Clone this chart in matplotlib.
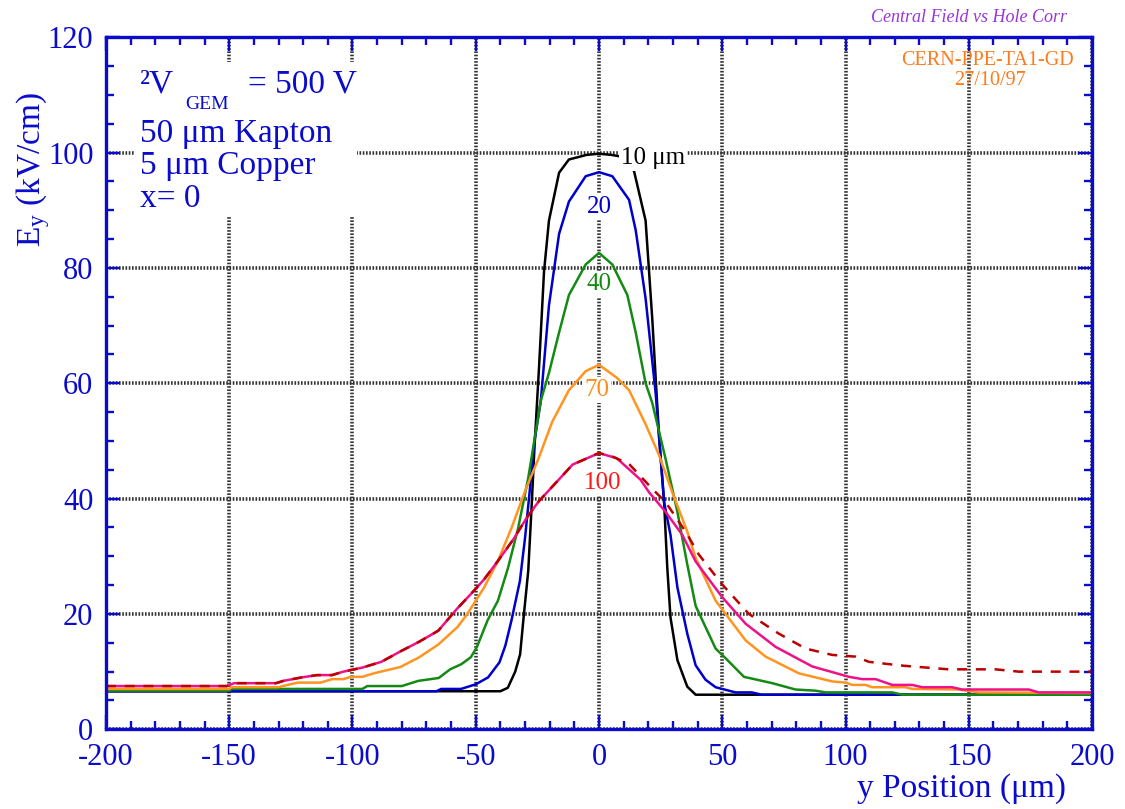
import matplotlib
matplotlib.use("Agg")
import matplotlib.pyplot as plt
from matplotlib.ticker import MultipleLocator

# ---- data (y position in um, Ey in kV/cm) ----
x_10 = [-200, -40, -37, -34, -32, -30.7, -28.7, -27.3, -26.2, -24.3, -22.3, -20.3,
        -16.2, -12.2, -5, 0, 5, 9, 14.2, 18.9, 21.6, 24.3, 26.4, 27.7, 29, 31.8,
        35.8, 39.2, 200]
y_10 = [6.6, 6.6, 7.2, 10, 13, 18.9, 27.5, 39, 48.7, 63, 79.4, 88.2,
        96.5, 98.8, 99.6, 99.8, 99.6, 99.3, 96.8, 88.2, 71.2, 51.2, 39.4, 28, 19.4, 12,
        7.4, 6.0, 6.0]

x_20 = [-200, -66, -64, -56, -50, -45, -40.4, -38, -35.5, -32.1, -30, -28, -26.2,
        -23.6, -20.3, -16.2, -12.2, -5.4, 0, 5.4, 12.2, 14.9, 18.9, 23, 26.4, 29,
        31.8, 35.8, 39.2, 43.2, 47.3, 55.4, 62, 66, 200]
y_20 = [6.6, 6.6, 7.0, 7.0, 7.8, 9, 11.6, 14.5, 18.9, 25.7, 33.2, 41.8, 49.9,
        57, 73.5, 85.9, 91.5, 95.9, 96.6, 95.9, 91.8, 86.5, 74.7, 58.2, 39.4, 33.7,
        24.6, 16.6, 11.1, 8.6, 7.3, 6.4, 6.4, 6.0, 6.0]

x_40 = [-200, -150, -149, -96, -94, -80, -73.3, -65, -60.4, -55.8, -52, -49.6,
        -45.2, -41, -36.9, -32.8, -28.7, -25.9, -23.6, -20.3, -16.2, -12.2, -5.4, 0,
        5.4, 11.5, 14.9, 18.9, 21.6, 27, 31.8, 35.8, 39.2, 47.3, 51.4, 58.8, 70.3,
        79.7, 87.8, 91.9, 118.9, 123, 200]
y_40 = [6.7, 6.7, 7.0, 7.0, 7.5, 7.5, 8.4, 8.9, 10.4, 11.3, 12.5, 14.2,
        18.9, 22.3, 28, 34.9, 43.6, 51, 57, 61.8, 68.8, 75.3, 80.6, 82.6,
        80.6, 75.3, 68.8, 60, 56.6, 46.9, 37.7, 28.6, 21.4, 14, 12.3, 9.1, 8.0,
        6.9, 6.7, 6.4, 6.4, 6.0, 6.0]

x_70 = [-200, -150, -149, -130, -128.3, -122.2, -112.9, -108.3, -103.7, -100.6,
        -96, -91.4, -80.6, -72.9, -65.2, -57.5, -53.4, -46.6, -41, -35.5, -30,
        -24.5, -19, -12.2, -5.4, 0, 7.4, 12.2, 18.9, 24.3, 29.7, 35.8, 39.2, 47.3,
        59.5, 67.6, 81.1, 94.6, 100, 102.7, 108.1, 110.8, 124.3, 127, 145.9, 154, 200]
y_70 = [7.0, 7.0, 7.3, 7.3, 7.5, 8.1, 8.1, 8.7, 8.7, 9.1,
        9.1, 9.7, 10.8, 12.5, 14.7, 17.7, 20, 24.6, 29.2, 34.9, 41.3,
        47, 53.3, 58.8, 62.1, 63.2, 60.9, 58.8, 52.9, 47.6, 41.1, 34.3, 29.7, 22.3,
        15.4, 12.6, 9.7, 8.3, 8.1, 7.7, 7.7, 7.3, 7.3, 7.0, 6.9, 6.4, 6.3]

x_100 = [-200, -151, -148, -131, -128, -120.6, -114.4, -108.3, -103.7, -96, -88.3,
         -80.6, -72.9, -65.2, -57.6, -52.1, -46.6, -41, -34.8, -29.3, -24.5, -17.6,
         -10.7, 0, 7.2, 16.8, 20.3, 27, 33.8, 39.2, 50, 59.5, 71.6, 86.5, 101.4,
         106.8, 112.2, 118.9, 127, 131.1, 143.2, 147.3, 174.3, 178.4, 200]
y_100 = [7.5, 7.5, 8, 8, 8.4, 9, 9.4, 9.4, 10, 10.7, 11.7,
         13.5, 15.2, 17.1, 20.9, 23.4, 26, 29.2, 32.9, 36.7, 39.5, 42.7,
         45.9, 47.9, 47, 43.3, 41.1, 37.7, 33.7, 29.1, 22.9, 18.3, 14.3, 10.9, 9.1,
         8.7, 8.7, 7.7, 7.7, 7.3, 7.3, 6.9, 6.9, 6.4, 6.4]

# dashed curve: same as 100 um on the left, higher tail on the right
x_dash = [-200, -151, -148, -131, -128, -120.6, -114.4, -108.3, -103.7, -96, -88.3,
          -80.6, -72.9, -65.2, -57.6, -52.1, -46.6, -41, -34.8, -29.3, -24.5, -17.6,
          -10.7, 0, 5.4, 12.2, 21.6, 27, 35.1, 40.5, 50, 60.8, 72.9, 83.8, 94.6,
          104.1, 109.5, 121.6, 127, 141.9, 150, 160.8, 170.3, 200]
y_dash = [7.5, 7.5, 8, 8, 8.4, 9, 9.4, 9.4, 10, 10.7, 11.7,
          13.5, 15.2, 17.1, 20.9, 23.4, 26, 29.2, 32.9, 36.7, 39.5, 42.7,
          45.9, 47.9, 47.3, 46, 41.7, 39.4, 34.3, 30.3, 25.1, 20, 16.6, 14, 12.9,
          12.6, 11.7, 11.1, 10.9, 10.4, 10.4, 10.4, 10.0, 10.0]

curve_labels = ["10 \u03bcm", "20", "40", "70", "100"]
label_x = [8.9, 0, 0, -1, 1.6]
label_y = [98.1, 89.6, 76.1, 57.8, 41.7]

x_ticks = [-200, -150, -100, -50, 0, 50, 100, 150, 200]
y_ticks = [0, 20, 40, 60, 80, 100, 120]

# ---- style ----
BLUE = "#0b0bcc"
plt.rcParams["font.family"] = ["Liberation Serif", "DejaVu Serif"]
plt.rcParams["mathtext.fontset"] = "custom"
plt.rcParams["mathtext.rm"] = "Liberation Serif"
plt.rcParams["mathtext.it"] = "Liberation Serif:italic"
plt.rcParams["axes.unicode_minus"] = False

fig = plt.figure(figsize=(11.25, 8.09), dpi=100)
ax = fig.add_axes([0.0942, 0.0985, 0.8765, 0.8555])

lw = 1.8
ax.plot(x_10, y_10, color="black", lw=lw, zorder=3)
ax.plot(x_20, y_20, color="#0000cc", lw=lw, zorder=4)
ax.plot(x_40, y_40, color="#148a14", lw=lw, zorder=5)
ax.plot(x_70, y_70, color="#ff9420", lw=lw, zorder=6)
ax.plot(x_100, y_100, color="#ee1188", lw=lw, zorder=7)
ax.plot(x_dash, y_dash, color="#bb0000", lw=lw, dashes=(4, 3.5), zorder=8)

label_colors = ["black", "#0000cc", "#148a14", "#ff8c1a", "#ff1a1a"]
for i, (t, c) in enumerate(zip(curve_labels, label_colors)):
    ha = "left" if i == 0 else "center"
    ax.text(label_x[i], label_y[i], t, color=c, fontsize=18, ha=ha, va="baseline",
            zorder=10, bbox=dict(facecolor="white", edgecolor="none", pad=1.5))

ax.set_xlim(-200, 200)
ax.set_ylim(0, 120)
ax.set_xticks(x_ticks)
ax.set_yticks(y_ticks)
ax.xaxis.set_minor_locator(MultipleLocator(10))
ax.yaxis.set_minor_locator(MultipleLocator(5))
ax.tick_params(which="both", direction="in", top=True, right=True, color=BLUE,
               labelcolor=BLUE, labelsize=22)
ax.tick_params(which="major", length=10, width=1.7)
ax.tick_params(which="minor", length=6, width=1.7)
ax.tick_params(axis="y", pad=9)
ax.tick_params(axis="x", pad=10)
for s in ax.spines.values():
    s.set_color(BLUE)
    s.set_linewidth(2.4)
    s.set_zorder(12)

ax.grid(True, which="major", color="#333333", lw=2.6, linestyle=(0, (0.45, 0.45)))
ax.set_axisbelow(True)

# white panel behind the annotation block
ax.add_patch(plt.Rectangle((0.029, 0.742), 0.226, 0.222, transform=ax.transAxes,
                           facecolor="white", edgecolor="none", zorder=2))
tkw = dict(transform=ax.transAxes, color=BLUE, va="baseline", zorder=11)
ax.text(0.0345, 0.920, "\u00b2V", fontsize=24, **tkw)
ax.text(0.080, 0.897, "GEM", fontsize=14, **tkw)
ax.text(0.144, 0.920, "= 500 V", fontsize=24, **tkw)
ax.text(0.0345, 0.848, "50 \u03bcm Kapton", fontsize=24, **tkw)
ax.text(0.0345, 0.803, "5 \u03bcm Copper", fontsize=24, **tkw)
ax.text(0.0345, 0.754, "x= 0", fontsize=24, **tkw)

# axis titles
fig.text(1066 / 1125, 1 - 797 / 809, "y Position (\u03bcm)", color=BLUE, fontsize=24,
         ha="right", va="baseline")
fig.text(33 / 1125, 1 - 247 / 809, r"E$_{\mathrm{y}}$ (kV/cm)", color=BLUE,
         fontsize=24, rotation=90, ha="center", va="bottom")

fig.text(1067 / 1125, 1 - 22 / 809, "Central Field vs Hole Corr", color="#9933dd",
         fontsize=13, style="italic", ha="right", va="baseline")
fig.text(987 / 1125, 1 - 65 / 809, "CERN-PPE-TA1-GD", color="#ff7a1a", fontsize=14.5,
         ha="center", va="baseline")
fig.text(990 / 1125, 1 - 85 / 809, "27/10/97", color="#ff7a1a", fontsize=14.5,
         ha="center", va="baseline")

fig.savefig("out.png", dpi=100)
